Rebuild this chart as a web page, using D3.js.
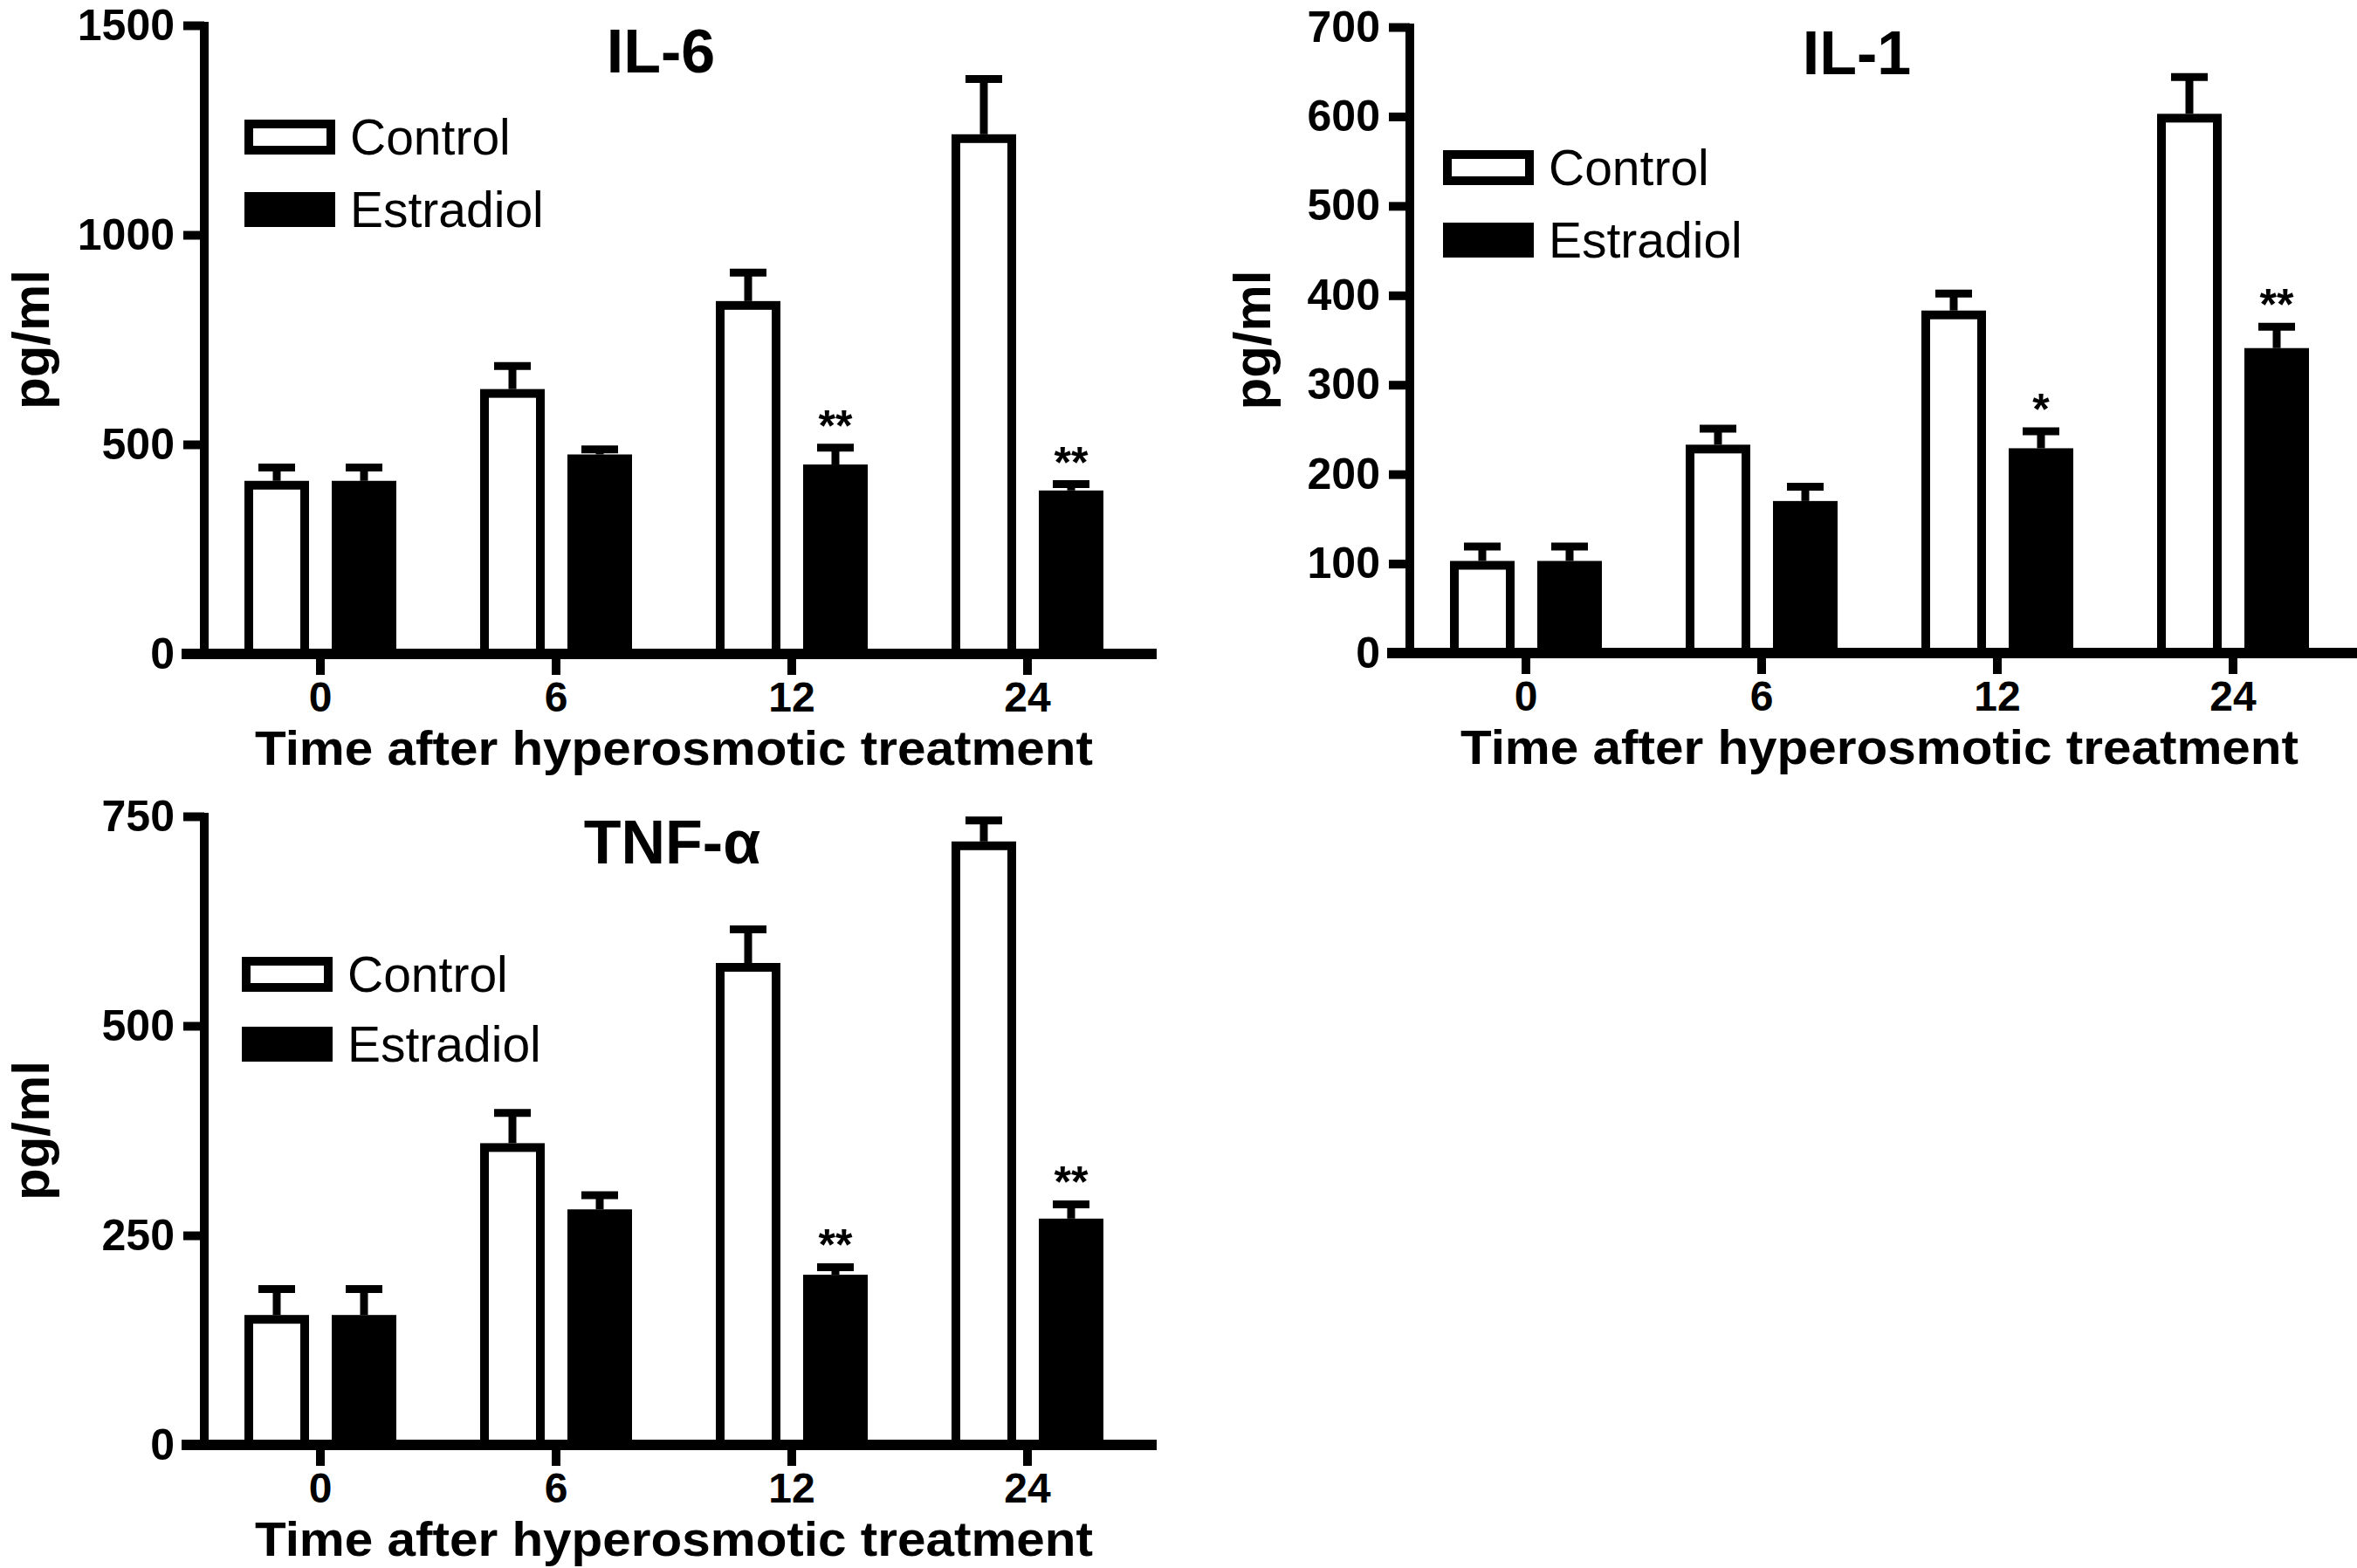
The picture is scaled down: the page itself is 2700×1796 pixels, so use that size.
<!DOCTYPE html>
<html><head><meta charset="utf-8">
<script src="https://cdn.jsdelivr.net/npm/d3@7"></script>
<style>html,body{margin:0;padding:0;background:#fff;} svg{display:block;}</style>
</head><body>
<svg id="chart" width="2700" height="1796"></svg>
<script>
// ---------- data ----------
const timepoints = ["0", "6", "12", "24"];
const groups = ["Control", "Estradiol"];

const il6Control = [413, 632, 842, 1240];
const il6ControlErr = [32, 55, 68, 132];
const il6Estradiol = [413, 476, 452, 390];
const il6EstradiolErr = [32, 12, 40, 15];
const il6Sig = ["", "", "**", "**"];
const il6Ticks = [0, 500, 1000, 1500];

const il1Control = [103, 233, 383, 603];
const il1ControlErr = [16, 18, 19, 41];
const il1Estradiol = [103, 170, 229, 341];
const il1EstradiolErr = [16, 16, 19, 24];
const il1Sig = ["", "", "*", "**"];
const il1Ticks = [0, 100, 200, 300, 400, 500, 600, 700];

const tnfControl = [155, 360, 575, 720];
const tnfControlErr = [31, 36, 40, 25];
const tnfEstradiol = [155, 281, 203, 270];
const tnfEstradiolErr = [31, 17, 9, 17];
const tnfSig = ["", "", "**", "**"];
const tnfTicks = [0, 250, 500, 750];

const yTitle = "pg/ml";
const xTitle = "Time after hyperosmotic treatment";

// ---------- layout ----------
const panels = [
  { title: "IL-6", control: il6Control, controlErr: il6ControlErr, estradiol: il6Estradiol, estradiolErr: il6EstradiolErr,
    sig: il6Sig, ticks: il6Ticks,
    axisX: 234, top: 29, bottom: 749, xRight: 1325, titleX: 757, titleY: 83,
    legX: 280, legY1: 137, legY2: 220, yLabX: 56 },
  { title: "IL-1", control: il1Control, controlErr: il1ControlErr, estradiol: il1Estradiol, estradiolErr: il1EstradiolErr,
    sig: il1Sig, ticks: il1Ticks,
    axisX: 1615, top: 31, bottom: 748, xRight: 2700, titleX: 2127, titleY: 85,
    legX: 1653, legY1: 172, legY2: 255, yLabX: 1455 },
  { title: "TNF-α", control: tnfControl, controlErr: tnfControlErr, estradiol: tnfEstradiol, estradiolErr: tnfEstradiolErr,
    sig: tnfSig, ticks: tnfTicks,
    axisX: 234, top: 935, bottom: 1655, xRight: 1325, titleX: 770, titleY: 989,
    legX: 277, legY1: 1096, legY2: 1176, yLabX: 56 }
];

const FONT = "'Liberation Sans', Arial, Helvetica, sans-serif";
const svg = d3.select("#chart");

panels.forEach(p => {
  const g = svg.append("g");
  const y = d3.scaleLinear().domain([p.ticks[0], p.ticks[p.ticks.length - 1]]).range([p.bottom, p.top]);
  const x0 = d3.scaleBand().domain(timepoints).range([p.axisX - 2, p.axisX - 2 + 1080]).paddingInner(0).paddingOuter(0);
  const x1 = d3.scaleBand().domain(groups).range([35, 235]).paddingInner(0.26).paddingOuter(0.13);
  const bw = x1.bandwidth();

  const rows = [];
  timepoints.forEach((t, i) => {
    rows.push({ t, grp: "Control", v: p.control[i], e: p.controlErr[i], sig: "" });
    rows.push({ t, grp: "Estradiol", v: p.estradiol[i], e: p.estradiolErr[i], sig: p.sig[i] });
  });

  // error bars
  const eb = g.append("g");
  rows.forEach(r => {
    const cx = x0(r.t) + x1(r.grp) + bw / 2;
    eb.append("line").attr("x1", cx).attr("x2", cx).attr("y1", y(r.v)).attr("y2", y(r.v + r.e))
      .attr("stroke", "#000").attr("stroke-width", 9);
    eb.append("line").attr("x1", cx - 21).attr("x2", cx + 21).attr("y1", y(r.v + r.e)).attr("y2", y(r.v + r.e))
      .attr("stroke", "#000").attr("stroke-width", 9);
    if (r.sig) {
      eb.append("text").attr("x", cx).attr("y", y(r.v + r.e) - 8).attr("text-anchor", "middle")
        .attr("font-family", FONT).attr("font-weight", "bold").attr("font-size", 50).text(r.sig);
    }
  });

  // bars
  g.append("g").selectAll("rect").data(rows).join("rect")
    .attr("x", r => x0(r.t) + x1(r.grp) + 5)
    .attr("width", bw - 10)
    .attr("y", r => y(r.v) + 5)
    .attr("height", r => y(0) - y(r.v) - 5)
    .attr("fill", r => r.grp === "Control" ? "#fff" : "#000")
    .attr("stroke", "#000").attr("stroke-width", 10);

  // y axis
  const ya = g.append("g").attr("transform", `translate(${p.axisX},0)`)
    .call(d3.axisLeft(y).tickValues(p.ticks).tickSize(24).tickSizeOuter(0).tickPadding(10).tickFormat(d3.format("d")));
  ya.select(".domain").attr("stroke-width", 10).attr("d", `M0,${p.top - 4}V${p.bottom}`);
  ya.selectAll(".tick line").attr("stroke-width", 10);
  ya.selectAll(".tick text").attr("font-family", FONT).attr("font-weight", "bold").attr("font-size", 50).attr("fill", "#000");

  // x axis
  const xa = g.append("g").attr("transform", `translate(0,${p.bottom})`)
    .call(d3.axisBottom(x0).tickSize(24).tickSizeOuter(0).tickPadding(8));
  xa.select(".domain").remove();
  xa.selectAll(".tick line").attr("stroke-width", 10);
  xa.selectAll(".tick text").attr("font-family", FONT).attr("font-weight", "bold").attr("font-size", 48).attr("fill", "#000");
  g.append("line").attr("x1", p.axisX - 26).attr("x2", p.xRight).attr("y1", p.bottom).attr("y2", p.bottom)
    .attr("stroke", "#000").attr("stroke-width", 12);

  // titles
  g.append("text").attr("x", p.titleX).attr("y", p.titleY).attr("text-anchor", "middle")
    .attr("font-family", FONT).attr("font-weight", "bold").attr("font-size", 70).text(p.title);
  g.append("text").attr("x", (x0.range()[0] + x0.range()[1]) / 2).attr("y", p.bottom + 127).attr("text-anchor", "middle")
    .attr("font-family", FONT).attr("font-weight", "bold").attr("font-size", 55)
    .attr("textLength", 960).attr("lengthAdjust", "spacingAndGlyphs").text(xTitle);
  g.append("text").attr("transform", `translate(${p.yLabX},${(p.top + p.bottom) / 2}) rotate(-90)`).attr("text-anchor", "middle")
    .attr("font-family", FONT).attr("font-weight", "bold").attr("font-size", 60).text(yTitle);

  // legend
  const leg = g.append("g");
  [[groups[0], p.legY1, "#fff"], [groups[1], p.legY2, "#000"]].forEach(([name, ly, fill]) => {
    leg.append("rect").attr("x", p.legX + 5).attr("y", ly + 5).attr("width", 94).attr("height", 30)
      .attr("fill", fill).attr("stroke", "#000").attr("stroke-width", 10);
    leg.append("text").attr("x", p.legX + 121).attr("y", ly + 40)
      .attr("font-family", FONT).attr("font-size", 57).attr("fill", "#000").text(name);
  });
});
</script>
</body></html>
